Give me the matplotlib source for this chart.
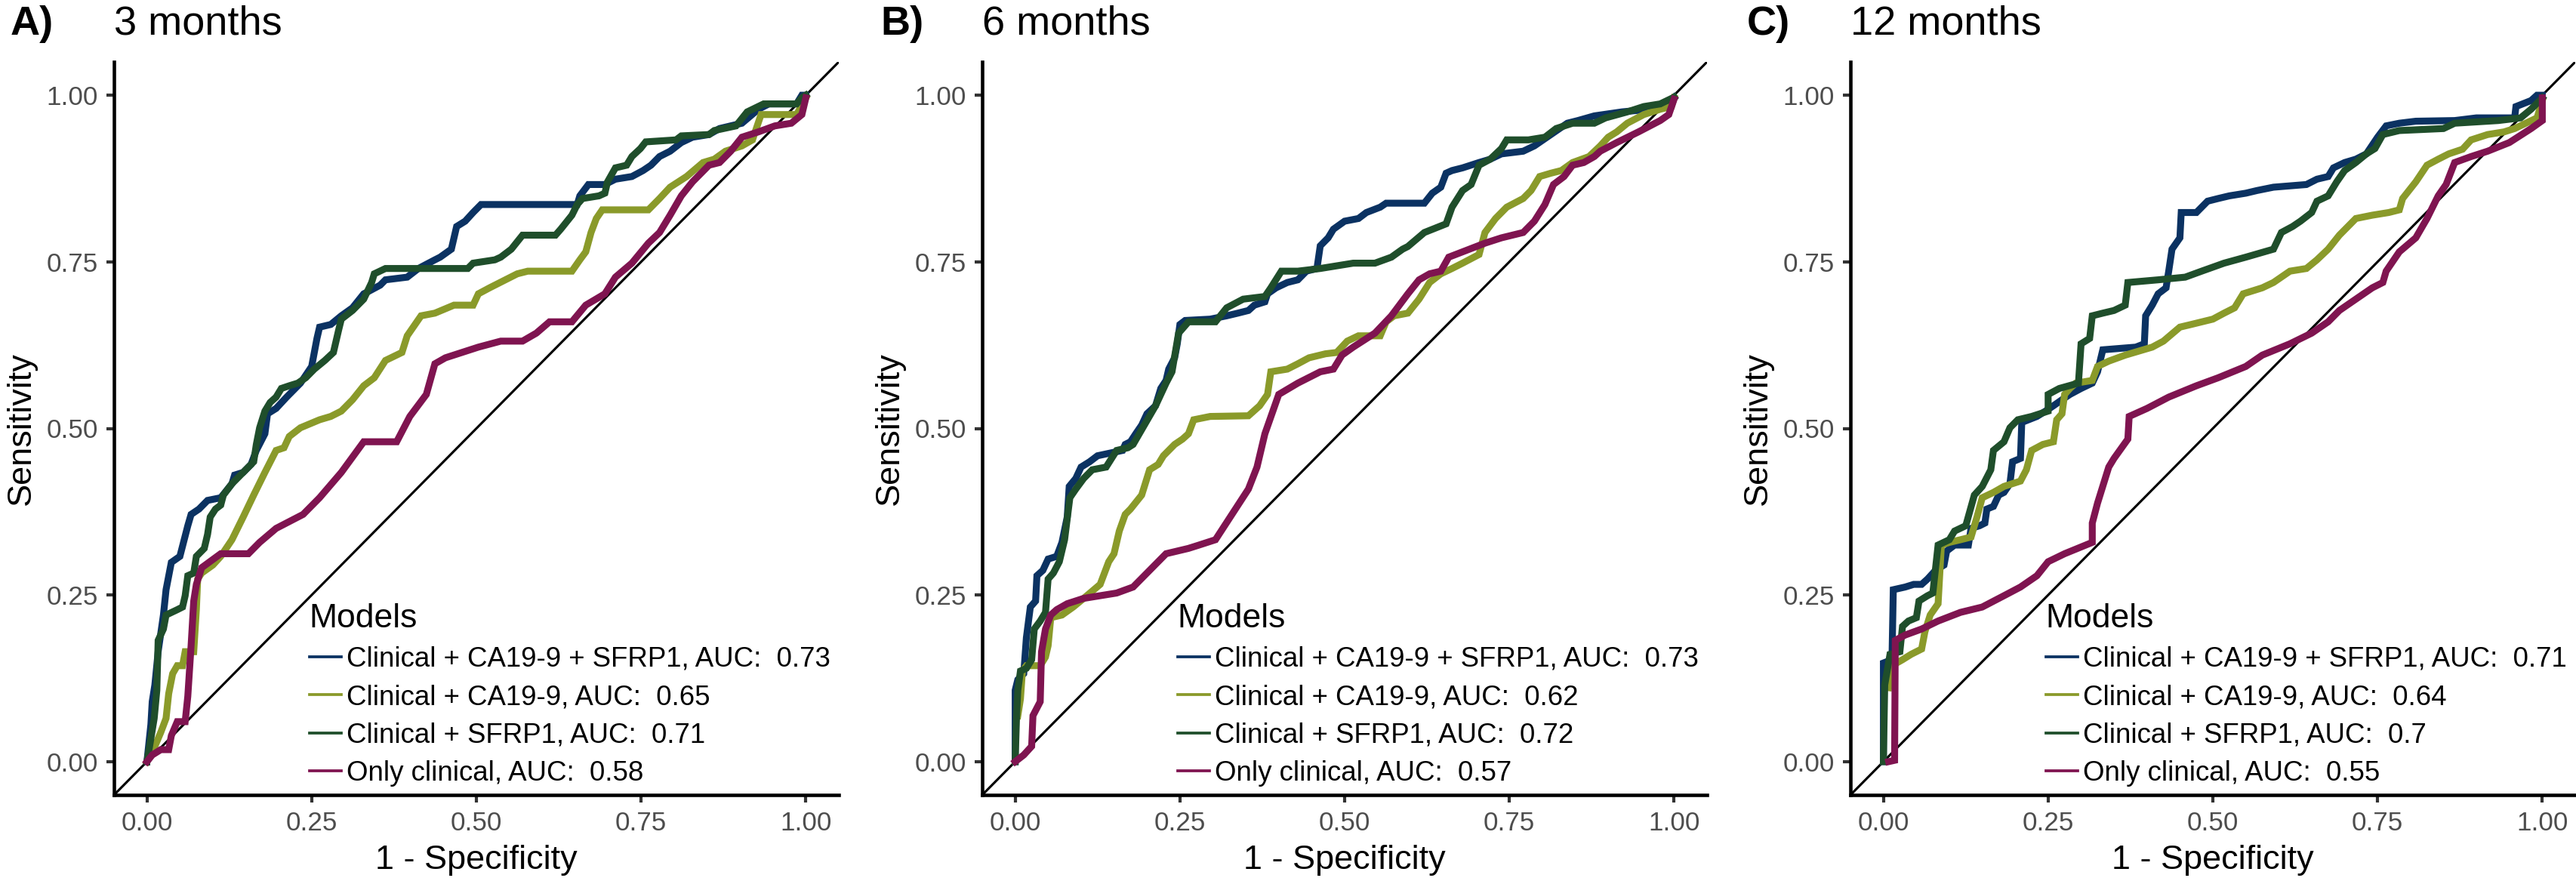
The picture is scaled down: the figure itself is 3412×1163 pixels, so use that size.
import matplotlib
matplotlib.use("Agg")
import matplotlib.pyplot as plt

plt.rcParams['font.family'] = ['Liberation Sans', 'DejaVu Sans']

# ---- data (1 - specificity, sensitivity) ----
model_names = ["Clinical + CA19-9 + SFRP1", "Clinical + CA19-9",
               "Clinical + SFRP1", "Only clinical"]
colors = ["#0b3262", "#8a9a2a", "#1f4e2b", "#7f1450"]

panel_tags = ["A)", "B)", "C)"]
panel_titles = ["3 months", "6 months", "12 months"]
auc_3m = ["0.73", "0.65", "0.71", "0.58"]
auc_6m = ["0.73", "0.62", "0.72", "0.57"]
auc_12m = ["0.71", "0.64", "0.7", "0.55"]

# 3 months
fpr_3m_full = [0, 0.006, 0.008, 0.012, 0.017, 0.025, 0.029, 0.037, 0.050, 0.062, 0.067, 0.079, 0.092, 0.112,
               0.129, 0.133, 0.146, 0.158, 0.166, 0.179, 0.183, 0.196, 0.212, 0.233, 0.250, 0.258, 0.262,
               0.279, 0.295, 0.312, 0.329, 0.337, 0.354, 0.362, 0.395, 0.412, 0.437, 0.445, 0.462, 0.470,
               0.483, 0.495, 0.507, 0.653, 0.657, 0.670, 0.695, 0.711, 0.736, 0.753, 0.765, 0.778, 0.794,
               0.811, 0.828, 0.853, 0.869, 0.903, 0.928, 0.944, 0.986, 0.994, 1.0]
tpr_3m_full = [0, 0.056, 0.090, 0.115, 0.165, 0.220, 0.258, 0.299, 0.308, 0.354, 0.371, 0.379, 0.392, 0.396,
               0.417, 0.430, 0.434, 0.446, 0.467, 0.492, 0.522, 0.530, 0.547, 0.568, 0.593, 0.635, 0.652,
               0.656, 0.669, 0.681, 0.702, 0.706, 0.715, 0.723, 0.727, 0.740, 0.753, 0.757, 0.769, 0.803,
               0.811, 0.824, 0.836, 0.836, 0.849, 0.866, 0.866, 0.874, 0.878, 0.887, 0.895, 0.908, 0.916,
               0.929, 0.937, 0.941, 0.950, 0.958, 0.979, 0.987, 0.987, 1.0, 1.0]
fpr_3m_ca = [0, 0.012, 0.021, 0.029, 0.033, 0.039, 0.046, 0.054, 0.058, 0.071, 0.075, 0.077, 0.083, 0.100,
             0.112, 0.129, 0.146, 0.162, 0.179, 0.196, 0.208, 0.216, 0.233, 0.262, 0.279, 0.295, 0.312, 0.329,
             0.345, 0.362, 0.387, 0.395, 0.416, 0.437, 0.466, 0.495, 0.503, 0.520, 0.528, 0.562, 0.578, 0.645,
             0.657, 0.666, 0.674, 0.682, 0.691, 0.761, 0.778, 0.794, 0.819, 0.844, 0.861, 0.878, 0.903, 0.919,
             0.932, 0.986, 1.0]
tpr_3m_ca = [0, 0.023, 0.044, 0.065, 0.102, 0.132, 0.144, 0.144, 0.165, 0.165, 0.228, 0.274, 0.283, 0.295,
             0.308, 0.333, 0.367, 0.400, 0.434, 0.467, 0.471, 0.488, 0.501, 0.513, 0.518, 0.526, 0.543, 0.564,
             0.576, 0.602, 0.614, 0.639, 0.669, 0.673, 0.685, 0.685, 0.702, 0.711, 0.715, 0.732, 0.736, 0.736,
             0.753, 0.765, 0.794, 0.815, 0.828, 0.828, 0.845, 0.862, 0.878, 0.899, 0.904, 0.916, 0.924, 0.933,
             0.971, 0.971, 0.996]
fpr_3m_sf = [0, 0.004, 0.011, 0.015, 0.017, 0.025, 0.029, 0.046, 0.054, 0.058, 0.062, 0.071, 0.075, 0.087,
             0.092, 0.096, 0.104, 0.112, 0.116, 0.129, 0.146, 0.162, 0.166, 0.171, 0.179, 0.187, 0.196, 0.204,
             0.216, 0.229, 0.241, 0.254, 0.270, 0.283, 0.291, 0.295, 0.312, 0.329, 0.341, 0.345, 0.362, 0.487,
             0.495, 0.528, 0.537, 0.553, 0.570, 0.620, 0.628, 0.645, 0.653, 0.661, 0.686, 0.695, 0.699, 0.711,
             0.728, 0.736, 0.749, 0.757, 0.803, 0.811, 0.853, 0.861, 0.894, 0.911, 0.936, 0.986, 0.994, 1.0]
tpr_3m_sf = [0, 0.023, 0.065, 0.107, 0.182, 0.199, 0.220, 0.228, 0.232, 0.249, 0.279, 0.283, 0.308, 0.320,
             0.341, 0.367, 0.379, 0.385, 0.400, 0.417, 0.434, 0.450, 0.476, 0.501, 0.526, 0.539, 0.547, 0.560,
             0.564, 0.568, 0.576, 0.589, 0.602, 0.614, 0.648, 0.664, 0.677, 0.694, 0.719, 0.732, 0.740, 0.740,
             0.748, 0.753, 0.757, 0.769, 0.790, 0.790, 0.799, 0.820, 0.836, 0.845, 0.849, 0.853, 0.870, 0.891,
             0.895, 0.908, 0.920, 0.930, 0.933, 0.939, 0.941, 0.947, 0.954, 0.975, 0.987, 0.987, 0.996, 1.0]
fpr_3m_cl = [0, 0.008, 0.021, 0.033, 0.037, 0.046, 0.058, 0.062, 0.067, 0.071, 0.075, 0.083, 0.112, 0.154,
             0.171, 0.196, 0.237, 0.262, 0.295, 0.329, 0.379, 0.399, 0.424, 0.437, 0.453, 0.478, 0.503, 0.537,
             0.570, 0.591, 0.611, 0.645, 0.666, 0.695, 0.711, 0.736, 0.761, 0.778, 0.794, 0.811, 0.828, 0.853,
             0.869, 0.886, 0.903, 0.928, 0.953, 0.978, 0.994, 1.0]
tpr_3m_cl = [0, 0.010, 0.018, 0.018, 0.039, 0.060, 0.060, 0.098, 0.174, 0.241, 0.266, 0.291, 0.312, 0.312,
             0.329, 0.350, 0.371, 0.396, 0.434, 0.480, 0.480, 0.518, 0.551, 0.597, 0.606, 0.614, 0.622, 0.631,
             0.631, 0.643, 0.660, 0.660, 0.685, 0.702, 0.727, 0.748, 0.778, 0.794, 0.820, 0.849, 0.870, 0.895,
             0.899, 0.916, 0.937, 0.945, 0.954, 0.958, 0.971, 0.996]

# 6 months
fpr_6m_full = [0, 0, 0.004, 0.013, 0.017, 0.023, 0.031, 0.033, 0.042, 0.050, 0.063, 0.071, 0.079, 0.082,
               0.092, 0.100, 0.113, 0.125, 0.163, 0.167, 0.175, 0.183, 0.192, 0.200, 0.213, 0.221, 0.229,
               0.233, 0.242, 0.246, 0.250, 0.258, 0.296, 0.321, 0.338, 0.354, 0.363, 0.379, 0.383, 0.396,
               0.413, 0.429, 0.442, 0.458, 0.463, 0.475, 0.483, 0.500, 0.521, 0.533, 0.554, 0.563, 0.621,
               0.633, 0.646, 0.654, 0.663, 0.679, 0.704, 0.721, 0.738, 0.771, 0.788, 0.813, 0.838, 0.854,
               0.879, 0.921, 0.963, 0.988, 1.0]
tpr_6m_full = [0, 0.107, 0.123, 0.132, 0.186, 0.232, 0.241, 0.279, 0.287, 0.304, 0.308, 0.329, 0.367, 0.413,
               0.425, 0.442, 0.450, 0.459, 0.467, 0.476, 0.480, 0.492, 0.505, 0.522, 0.534, 0.560, 0.572,
               0.589, 0.606, 0.627, 0.656, 0.662, 0.664, 0.669, 0.673, 0.677, 0.685, 0.690, 0.702, 0.711,
               0.719, 0.723, 0.736, 0.740, 0.774, 0.786, 0.799, 0.811, 0.815, 0.824, 0.832, 0.838, 0.838,
               0.853, 0.862, 0.883, 0.887, 0.891, 0.899, 0.904, 0.912, 0.916, 0.924, 0.941, 0.958, 0.962,
               0.969, 0.975, 0.979, 0.987, 0.997]
fpr_6m_ca = [0.004, 0.008, 0.011, 0.017, 0.038, 0.046, 0.050, 0.054, 0.071, 0.088, 0.104, 0.129, 0.142, 0.150,
             0.158, 0.167, 0.175, 0.192, 0.204, 0.217, 0.225, 0.242, 0.254, 0.263, 0.271, 0.296, 0.354, 0.371,
             0.383, 0.388, 0.413, 0.429, 0.446, 0.471, 0.488, 0.504, 0.521, 0.554, 0.563, 0.575, 0.596, 0.613,
             0.629, 0.646, 0.663, 0.679, 0.704, 0.713, 0.729, 0.746, 0.771, 0.783, 0.796, 0.813, 0.829, 0.846,
             0.871, 0.888, 0.900, 0.913, 0.929, 0.954, 0.979, 0.996, 1.0]
tpr_6m_ca = [0.069, 0.094, 0.136, 0.144, 0.144, 0.157, 0.174, 0.216, 0.220, 0.232, 0.245, 0.266, 0.300, 0.312,
             0.346, 0.371, 0.379, 0.400, 0.438, 0.446, 0.459, 0.476, 0.484, 0.492, 0.513, 0.518, 0.519, 0.534,
             0.551, 0.585, 0.589, 0.597, 0.606, 0.612, 0.614, 0.631, 0.639, 0.639, 0.660, 0.669, 0.673, 0.694,
             0.719, 0.732, 0.740, 0.748, 0.761, 0.794, 0.815, 0.832, 0.845, 0.857, 0.878, 0.883, 0.887, 0.899,
             0.908, 0.924, 0.937, 0.945, 0.958, 0.971, 0.979, 0.983, 0.996]
fpr_6m_sf = [0, 0.002, 0.004, 0.008, 0.017, 0.025, 0.029, 0.038, 0.046, 0.050, 0.058, 0.067, 0.075, 0.083,
             0.092, 0.104, 0.117, 0.138, 0.154, 0.171, 0.179, 0.196, 0.213, 0.229, 0.238, 0.248, 0.263, 0.304,
             0.321, 0.346, 0.379, 0.388, 0.404, 0.429, 0.463, 0.488, 0.513, 0.546, 0.571, 0.588, 0.596, 0.621,
             0.654, 0.663, 0.679, 0.692, 0.704, 0.721, 0.738, 0.746, 0.779, 0.804, 0.821, 0.846, 0.879, 0.896,
             0.929, 0.954, 0.979, 1.0]
tpr_6m_sf = [0, 0.065, 0.107, 0.136, 0.140, 0.153, 0.199, 0.211, 0.224, 0.274, 0.283, 0.300, 0.333, 0.396,
             0.409, 0.425, 0.438, 0.442, 0.467, 0.471, 0.476, 0.505, 0.534, 0.568, 0.585, 0.643, 0.660, 0.660,
             0.681, 0.694, 0.698, 0.711, 0.736, 0.736, 0.740, 0.744, 0.748, 0.748, 0.757, 0.769, 0.773, 0.794,
             0.807, 0.832, 0.857, 0.866, 0.895, 0.904, 0.920, 0.933, 0.933, 0.937, 0.950, 0.958, 0.958, 0.966,
             0.975, 0.983, 0.987, 0.997]
fpr_6m_cl = [0, 0.013, 0.025, 0.027, 0.038, 0.040, 0.046, 0.054, 0.063, 0.079, 0.104, 0.129, 0.154, 0.179,
             0.204, 0.229, 0.263, 0.279, 0.304, 0.329, 0.354, 0.367, 0.379, 0.400, 0.429, 0.463, 0.483, 0.496,
             0.513, 0.546, 0.571, 0.596, 0.613, 0.629, 0.646, 0.658, 0.679, 0.713, 0.738, 0.771, 0.788, 0.804,
             0.817, 0.833, 0.846, 0.863, 0.879, 0.888, 0.913, 0.946, 0.979, 0.992, 1.0]
tpr_6m_cl = [0, 0.010, 0.023, 0.069, 0.090, 0.165, 0.199, 0.220, 0.228, 0.237, 0.245, 0.249, 0.253, 0.262,
             0.287, 0.312, 0.320, 0.325, 0.333, 0.371, 0.409, 0.442, 0.492, 0.551, 0.568, 0.585, 0.589, 0.610,
             0.622, 0.643, 0.669, 0.702, 0.723, 0.732, 0.736, 0.757, 0.765, 0.778, 0.786, 0.794, 0.811, 0.836,
             0.866, 0.878, 0.895, 0.899, 0.908, 0.916, 0.929, 0.945, 0.962, 0.971, 0.994]

# 12 months
fpr_12m_full = [0, 0, 0.013, 0.015, 0.033, 0.046, 0.058, 0.067, 0.079, 0.092, 0.096, 0.108, 0.129, 0.133,
                0.146, 0.154, 0.157, 0.167, 0.175, 0.183, 0.192, 0.196, 0.208, 0.210, 0.233, 0.246, 0.258,
                0.271, 0.283, 0.300, 0.317, 0.325, 0.333, 0.383, 0.396, 0.398, 0.408, 0.417, 0.429, 0.433,
                0.438, 0.450, 0.452, 0.475, 0.492, 0.508, 0.525, 0.550, 0.567, 0.592, 0.642, 0.658, 0.675,
                0.683, 0.700, 0.717, 0.733, 0.750, 0.763, 0.783, 0.808, 0.867, 0.900, 0.958, 0.960, 0.983,
                0.992, 1.0]
tpr_12m_full = [0, 0.148, 0.153, 0.258, 0.262, 0.266, 0.266, 0.274, 0.287, 0.295, 0.316, 0.325, 0.325, 0.350,
                0.354, 0.358, 0.379, 0.383, 0.400, 0.404, 0.417, 0.450, 0.455, 0.509, 0.518, 0.526, 0.534,
                0.543, 0.551, 0.560, 0.568, 0.585, 0.618, 0.622, 0.627, 0.669, 0.685, 0.702, 0.711, 0.736,
                0.769, 0.786, 0.824, 0.824, 0.841, 0.845, 0.849, 0.853, 0.857, 0.862, 0.866, 0.874, 0.878,
                0.891, 0.899, 0.904, 0.912, 0.937, 0.954, 0.958, 0.961, 0.962, 0.966, 0.966, 0.983, 0.992,
                1.0, 1.0]
fpr_12m_ca = [0.008, 0.013, 0.029, 0.042, 0.058, 0.063, 0.071, 0.083, 0.088, 0.100, 0.117, 0.133, 0.142, 0.150,
              0.167, 0.183, 0.208, 0.217, 0.225, 0.242, 0.258, 0.263, 0.271, 0.275, 0.283, 0.292, 0.317, 0.325,
              0.342, 0.367, 0.408, 0.425, 0.450, 0.467, 0.500, 0.517, 0.533, 0.546, 0.575, 0.592, 0.617, 0.642,
              0.658, 0.675, 0.692, 0.717, 0.742, 0.767, 0.783, 0.788, 0.808, 0.825, 0.842, 0.858, 0.879, 0.892,
              0.917, 0.942, 0.958, 0.975, 0.992, 1.0]
tpr_12m_ca = [0.111, 0.144, 0.153, 0.161, 0.169, 0.195, 0.220, 0.237, 0.325, 0.329, 0.333, 0.337, 0.367, 0.396,
              0.404, 0.413, 0.421, 0.438, 0.467, 0.476, 0.480, 0.513, 0.522, 0.551, 0.560, 0.568, 0.572, 0.593,
              0.601, 0.610, 0.622, 0.631, 0.652, 0.656, 0.664, 0.673, 0.681, 0.702, 0.711, 0.719, 0.736, 0.740,
              0.753, 0.769, 0.790, 0.815, 0.820, 0.824, 0.828, 0.845, 0.870, 0.895, 0.904, 0.912, 0.919, 0.933,
              0.941, 0.945, 0.950, 0.958, 0.966, 0.992]
fpr_12m_sf = [0, 0.002, 0.010, 0.025, 0.029, 0.038, 0.050, 0.054, 0.067, 0.075, 0.083, 0.100, 0.108, 0.125,
              0.138, 0.150, 0.163, 0.167, 0.183, 0.192, 0.204, 0.225, 0.250, 0.250, 0.267, 0.296, 0.300, 0.313,
              0.317, 0.333, 0.350, 0.367, 0.371, 0.417, 0.458, 0.483, 0.517, 0.550, 0.592, 0.604, 0.621, 0.633,
              0.650, 0.658, 0.675, 0.688, 0.700, 0.717, 0.733, 0.746, 0.758, 0.783, 0.850, 0.867, 0.933, 0.967,
              0.983, 1.0]
tpr_12m_sf = [0, 0.115, 0.161, 0.165, 0.203, 0.211, 0.216, 0.241, 0.249, 0.253, 0.325, 0.333, 0.346, 0.354,
              0.400, 0.413, 0.438, 0.467, 0.480, 0.501, 0.513, 0.518, 0.526, 0.551, 0.560, 0.568, 0.627, 0.635,
              0.669, 0.673, 0.677, 0.685, 0.719, 0.723, 0.727, 0.736, 0.748, 0.757, 0.769, 0.794, 0.803, 0.811,
              0.824, 0.841, 0.849, 0.870, 0.887, 0.899, 0.912, 0.920, 0.941, 0.947, 0.950, 0.958, 0.962, 0.966,
              0.979, 0.996]
fpr_12m_cl = [0.008, 0.017, 0.018, 0.033, 0.058, 0.083, 0.117, 0.150, 0.183, 0.208, 0.233, 0.250, 0.275, 0.317,
              0.317, 0.325, 0.342, 0.350, 0.371, 0.373, 0.400, 0.433, 0.475, 0.508, 0.550, 0.575, 0.617, 0.650,
              0.675, 0.692, 0.717, 0.742, 0.758, 0.763, 0.783, 0.808, 0.825, 0.842, 0.854, 0.867, 0.892, 0.917,
              0.950, 0.983, 1.0, 1.0]
tpr_12m_cl = [0, 0.002, 0.182, 0.190, 0.199, 0.211, 0.224, 0.232, 0.249, 0.262, 0.279, 0.300, 0.312, 0.329,
              0.358, 0.388, 0.442, 0.455, 0.484, 0.518, 0.530, 0.547, 0.564, 0.576, 0.593, 0.610, 0.627, 0.643,
              0.660, 0.677, 0.694, 0.711, 0.719, 0.736, 0.765, 0.786, 0.815, 0.849, 0.866, 0.899, 0.908, 0.916,
              0.929, 0.950, 0.962, 0.996]

panels = [
    ([(fpr_3m_full, tpr_3m_full), (fpr_3m_ca, tpr_3m_ca), (fpr_3m_sf, tpr_3m_sf), (fpr_3m_cl, tpr_3m_cl)], auc_3m),
    ([(fpr_6m_full, tpr_6m_full), (fpr_6m_ca, tpr_6m_ca), (fpr_6m_sf, tpr_6m_sf), (fpr_6m_cl, tpr_6m_cl)], auc_6m),
    ([(fpr_12m_full, tpr_12m_full), (fpr_12m_ca, tpr_12m_ca), (fpr_12m_sf, tpr_12m_sf), (fpr_12m_cl, tpr_12m_cl)], auc_12m),
]

W, H = 3412, 1163
DPI = 300
fig = plt.figure(figsize=(W / DPI, H / DPI), dpi=DPI)

ax_lefts = [151, 1301, 2451]
tag_x = [14, 1166, 2314]
ax_w = 960
ax_bottom = (H - 1053) / H
ax_h = (1053 - 82) / H
ticks = [0, 0.25, 0.5, 0.75, 1.0]
tick_labels = ["0.00", "0.25", "0.50", "0.75", "1.00"]

for i, (curves, aucs) in enumerate(panels):
    ax = fig.add_axes([ax_lefts[i] / W, ax_bottom, ax_w / W, ax_h])
    ax.plot([-0.05, 1.05], [-0.05, 1.05], color="black", lw=0.75, zorder=1)
    for (fx, ty), name, auc, col in zip(curves, model_names, aucs, colors):
        ax.plot(fx, ty, color=col, lw=2.2, solid_joinstyle="miter",
                label=f"{name}, AUC:  {auc}", zorder=2)
    ax.set_xlim(-0.05, 1.05)
    ax.set_ylim(-0.05, 1.05)
    ax.set_xticks(ticks)
    ax.set_xticklabels(tick_labels)
    ax.set_yticks(ticks)
    ax.set_yticklabels(tick_labels)
    for s in ["top", "right"]:
        ax.spines[s].set_visible(False)
    for s in ["left", "bottom"]:
        ax.spines[s].set_linewidth(1.1)
    ax.tick_params(axis="both", length=2.4, width=1.0, color="#333333",
                   labelsize=8.4, labelcolor="#4d4d4d", pad=2.6)
    ax.set_xlabel("1 - Specificity", fontsize=10.8, labelpad=3.0)
    ax.set_ylabel("Sensitivity", fontsize=10.8, labelpad=3.0)
    # panel title and tag
    fig.text(ax_lefts[i] / W, 1 - 45 / H, panel_titles[i], fontsize=13,
             ha="left", va="baseline")
    fig.text(tag_x[i] / W, 1 - 46 / H, panel_tags[i], fontsize=13,
             fontweight="bold", ha="left", va="baseline")
    leg = ax.legend(title="Models", loc="lower right", bbox_to_anchor=(1.0, 0.0),
                    frameon=False, fontsize=8.8, title_fontsize=10.7,
                    handlelength=1.15, handletextpad=0.2, labelspacing=0.42,
                    borderaxespad=0.0, borderpad=0.3, alignment="left")
    for line in leg.get_lines():
        line.set_linewidth(0.9)

fig.savefig("out.png", dpi=DPI)
